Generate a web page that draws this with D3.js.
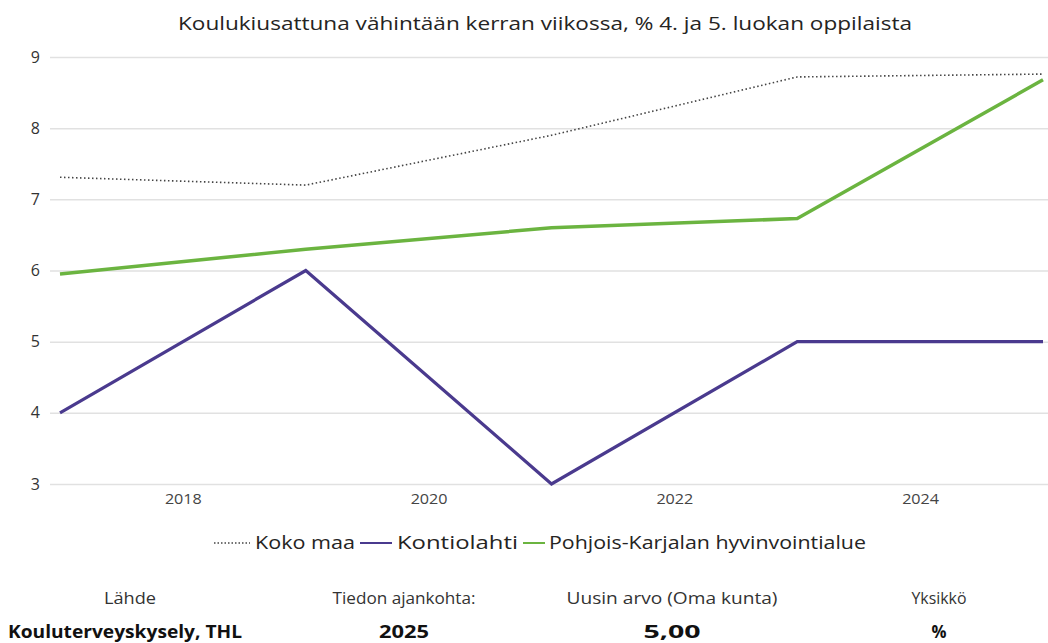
<!DOCTYPE html>
<html><head><meta charset="utf-8">
<script src="https://cdn.jsdelivr.net/npm/d3@7"></script>
<style>
body{margin:0;background:#fff;}
text{font-family:"Open Sans","Noto Sans",sans-serif;}
</style></head><body>
<svg id="c" width="1048" height="643"></svg>
<script>
const years = [2017, 2019, 2021, 2023, 2025];
const kokoMaa = [7.31, 7.2, 7.9, 8.72, 8.76];
const kontiolahti = [4, 6, 3, 5, 5];
const pohjoisKarjala = [5.95, 6.3, 6.6, 6.73, 8.68];
const yTicks = [3, 4, 5, 6, 7, 8, 9];
const xTicks = [2018, 2020, 2022, 2024];
const seriesNames = ["Koko maa", "Kontiolahti", "Pohjois-Karjalan hyvinvointialue"];
const title = "Koulukiusattuna vähintään kerran viikossa, % 4. ja 5. luokan oppilaista";
const footHeaders = ["Lähde", "Tiedon ajankohta:", "Uusin arvo (Oma kunta)", "Yksikkö"];
const footValues = ["Kouluterveyskysely, THL", "2025", "5,00", "%"];

const svg = d3.select("#c");
const x = d3.scaleLinear().domain([2017, 2025]).range([60, 1043]);
const y = d3.scaleLinear().domain([3, 9]).range([484, 57]);

svg.append("text").attr("x", 545).attr("y", 30).attr("text-anchor", "middle")
  .attr("font-size", 18).attr("fill", "#252423").attr("textLength", 734)
  .attr("lengthAdjust", "spacingAndGlyphs").text(title);

// grid
const yAxis = d3.axisLeft(y).tickValues(yTicks).tickSize(-(1048 - 50)).tickPadding(10).tickFormat(d3.format("d"));
const gy = svg.append("g").attr("transform", "translate(50,0)").call(yAxis);
gy.select(".domain").remove();
gy.selectAll(".tick line").attr("stroke", "#e1e1e1").attr("stroke-width", 1.5);
gy.selectAll(".tick text").style("font-size", "16px").attr("fill", "#333").style("font-family", "Open Sans");

const xAxis = d3.axisBottom(x).tickValues(xTicks).tickSize(0).tickPadding(8).tickFormat(d3.format("d"));
const gx = svg.append("g").attr("transform", "translate(0,485)").call(xAxis);
gx.select(".domain").remove();
gx.selectAll(".tick text").style("font-size", "15px").attr("fill", "#444").style("font-family", "Open Sans")
  .attr("textLength", 37).attr("lengthAdjust", "spacingAndGlyphs");

const line = d3.line().x((d, i) => x(years[i])).y(d => y(d));
svg.append("path").datum(kokoMaa).attr("d", line).attr("fill", "none")
  .attr("stroke", "#444").attr("stroke-width", 1.6).attr("stroke-dasharray", "1.5,2.5");
svg.append("path").datum(pohjoisKarjala).attr("d", line).attr("fill", "none")
  .attr("stroke", "#6bb440").attr("stroke-width", 3.5).attr("stroke-linejoin", "round");
svg.append("path").datum(kontiolahti).attr("d", line).attr("fill", "none")
  .attr("stroke", "#4a3a8e").attr("stroke-width", 3.2).attr("stroke-linejoin", "miter");

// legend
const lg = svg.append("g");
const legendItems = [
  {name: seriesNames[0], x1: 214, x2: 250, tx: 255, color: "#444", dash: "1.5,2", w: 1.5},
  {name: seriesNames[1], x1: 360, x2: 392, tx: 397, color: "#4a3a8e", dash: null, w: 2},
  {name: seriesNames[2], x1: 523, x2: 545, tx: 549, color: "#6bb440", dash: null, w: 2}
];
const legendWidths = [100, 121, 317];
legendItems.forEach((it, i) => {
  lg.append("line").attr("x1", it.x1).attr("x2", it.x2).attr("y1", 543).attr("y2", 543)
    .attr("stroke", it.color).attr("stroke-width", it.w).attr("stroke-dasharray", it.dash);
  lg.append("text").attr("x", it.tx).attr("y", 549).attr("font-size", 19).attr("fill", "#252423")
    .attr("textLength", legendWidths[i]).attr("lengthAdjust", "spacingAndGlyphs").text(it.name);
});

// footer
const footX = [130, 404, 672, 939];
const headW = [52, 143, 211, 55];
const valW = [234, 50, 57, 15];
footHeaders.forEach((h, i) => {
  svg.append("text").attr("x", footX[i]).attr("y", 604).attr("text-anchor", "middle")
    .attr("font-size", 16.5).attr("fill", "#333").attr("textLength", headW[i])
    .attr("lengthAdjust", "spacingAndGlyphs").text(h);
});
const valX = [125, 404, 672, 939];
footValues.forEach((v, i) => {
  svg.append("text").attr("x", valX[i]).attr("y", 638).attr("text-anchor", "middle")
    .attr("font-size", 18).attr("font-weight", "bold").attr("fill", "#111").attr("textLength", valW[i])
    .attr("lengthAdjust", "spacingAndGlyphs").text(v);
});
</script></body></html>
